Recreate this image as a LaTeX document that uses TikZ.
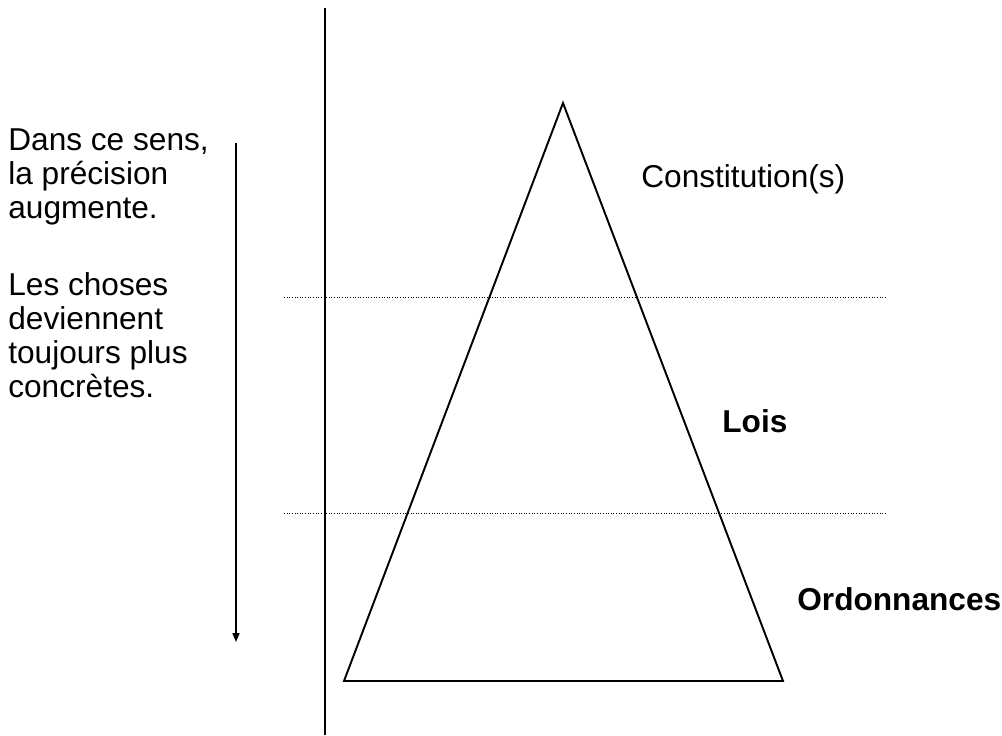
\documentclass[tikz,border=0pt]{standalone}
\usepackage{fontspec}
\setmainfont{Liberation Sans}
\usetikzlibrary{arrows.meta}

\begin{document}
\begin{tikzpicture}[x=0.02cm, y=-0.02cm,
  lbl/.style={font=\fontsize{18}{19.35}\selectfont, inner sep=0pt, anchor=base west},
  lblbold/.style={lbl, font=\fontsize{18}{19.35}\selectfont\bfseries},
  level/.style={densely dotted, line width=0.5pt}]
\useasboundingbox (0,0) rectangle (1002,735);

% Vertical axis
\draw[line width=1pt] (325,8) -- (325,735);

% Pyramid
\draw[line width=1.1pt] (563,103) -- (783,681) -- (344,681) -- cycle;

% Level separators
\draw[level] (284,297) -- (887,297);
\draw[level] (284,513) -- (887,513);

% Direction arrow
\coordinate (arrtop) at (236,143);
\coordinate (arrbot) at (236,642);
\draw[line width=0.8pt, -{Triangle[length=5pt,width=4pt]}] (arrtop) -- (arrbot);

% Left text (base = last line)
\node[lbl, align=left] (sens) at (8,218) {Dans ce sens,\\la précision\\augmente.};
\node[lbl, align=left] (choses) at (8,397) {Les choses\\deviennent\\toujours plus\\concrètes.};

% Levels of the pyramid
\node[lbl] (constitution) at (641,187) {Constitution(s)};
\node[lblbold] (lois) at (722,432) {Lois};
\node[lblbold] (ordonnances) at (797,610) {Ordonnances};

\end{tikzpicture}
\end{document}
